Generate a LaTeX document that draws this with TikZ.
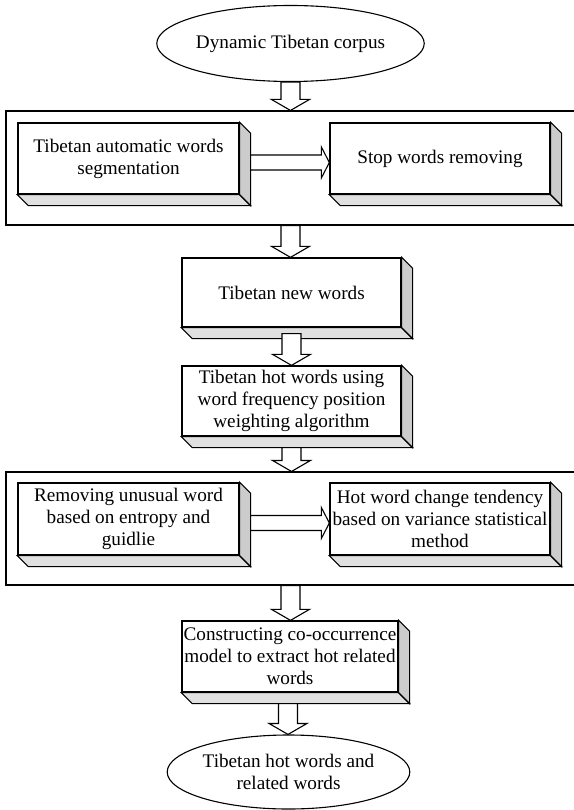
\documentclass[tikz,border=0pt]{standalone}
\usepackage{fontspec}
\setmainfont{Liberation Serif}
\usetikzlibrary{shapes.geometric,calc}
\newcommand\depthfaces[1]{%
  \filldraw[bottomface] (#1.south west) -- ($(#1.south west)+(11,11)$) -- ($(#1.south east)+(11,11)$) -- (#1.south east) -- cycle;
  \filldraw[sideface] (#1.north east) -- ($(#1.north east)+(11,11)$) -- ($(#1.south east)+(11,11)$) -- (#1.south east) -- cycle;
}
\begin{document}
\begin{tikzpicture}[x=1pt,y=-1pt,
  txt/.style={font=\fontsize{19.2}{22}\selectfont, align=center, inner sep=0pt},
  oval/.style={txt, ellipse, draw, line width=1.1pt, minimum width=227pt, minimum height=76pt},
  frontbox/.style={txt, rectangle, draw, line width=1.3pt, fill=white},
  outerbox/.style={rectangle, draw, line width=1.1pt, inner sep=0pt},
  bottomface/.style={fill=black!12, draw=black, line width=1.1pt, line join=miter},
  sideface/.style={fill=black!20, draw=black, line width=1.1pt, line join=miter},
  vblock/.style={draw, fill=white, line width=1.1pt, line join=miter,
    to path={let \p1=(\tikztostart), \p2=(\tikztotarget) in
      (\x1-9.5pt,\y1) -- (\x1+9.5pt,\y1) -- (\x1+9.5pt,\y2+11pt) -- (\x1+19pt,\y2+11pt)
      -- (\x1,\y2) -- (\x1-19pt,\y2+11pt) -- (\x1-9.5pt,\y2+11pt) -- cycle}},
  hblock/.style={draw, fill=white, line width=1.1pt, line join=miter,
    to path={let \p1=(\tikztostart), \p2=(\tikztotarget) in
      (\x1,\y1+7.5pt) -- (\x2-8pt,\y1+7.5pt) -- (\x2-8pt,\y1+15.5pt) -- (\x2,\y1)
      -- (\x2-8pt,\y1-15.5pt) -- (\x2-8pt,\y1-7.5pt) -- (\x1,\y1-7.5pt) -- cycle}}
]
\useasboundingbox (0,0) rectangle (573,810);

% outer frames
\node[outerbox, minimum width=569pt, minimum height=114pt] (O1) at (290.5,168) {};
\node[outerbox, minimum width=569pt, minimum height=113pt] (O2) at (290.5,528.5) {};

% ellipses
\node[oval] (E1) at (290.5,43.5) {Dynamic Tibetan corpus};
\node[oval, minimum height=74pt] (E2) at (288.5,772) {Tibetan hot words and\\related words};

% 3D boxes
\node[frontbox, minimum width=221pt, minimum height=71pt] (L1) at (128.5,158.5) {Tibetan automatic words\\segmentation};
\node[frontbox, minimum width=220pt, minimum height=71pt] (R1) at (440,158.5) {Stop words removing};
\node[frontbox, minimum width=219pt, minimum height=69pt] (N) at (291.5,292.5) {Tibetan new words};
\node[frontbox, minimum width=219pt, minimum height=70pt] (H) at (291.5,401) {Tibetan hot words using\\word frequency position\\weighting algorithm};
\node[frontbox, minimum width=221pt, minimum height=72pt] (L2) at (128.5,519) {Removing unusual word\\based on entropy and\\guidlie};
\node[frontbox, minimum width=220pt, minimum height=72pt] (R2) at (440,519) {Hot word change tendency\\based on variance statistical\\method};
\node[frontbox, minimum width=216pt, minimum height=71pt] (C) at (290,656.5) {Constructing co-occurrence\\model to extract hot related\\words};

\depthfaces{L1}
\depthfaces{R1}
\depthfaces{N}
\depthfaces{H}
\depthfaces{L2}
\depthfaces{R2}
\depthfaces{C}

% connectors
\draw[vblock] (E1.south) to (O1.north);
\draw[hblock] ($(L1.east)+(11,4)$) to (R1.west);
\draw[vblock] (O1.south) to (N.north);
\draw[vblock] ($(N.south)+(0,6)$) to (H.north);
\draw[vblock] ($(H.south)+(0,11)$) to (O2.north);
\draw[hblock] ($(L2.east)+(11,4)$) to (R2.west);
\draw[vblock] (O2.south) to (C.north);
\draw[vblock] ($(C.south)+(-2,11)$) to (E2.north);
\end{tikzpicture}
\end{document}
